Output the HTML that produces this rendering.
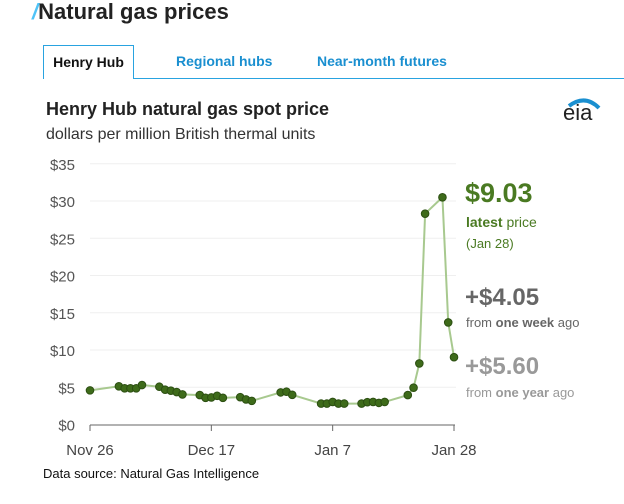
<!DOCTYPE html>
<html><head><meta charset="utf-8"><style>
body{margin:0;width:624px;height:504px;background:#fff;font-family:"Liberation Sans",sans-serif;overflow:hidden;position:relative}
.a{position:absolute;white-space:nowrap}
</style></head><body>
<div class="a" style="left:32px;top:-1px;font-size:22px;font-weight:bold;color:#222"><span style="color:#4fc3f7;font-style:italic">/</span>Natural gas prices</div>
<div class="a" style="left:43px;top:45px;width:89px;height:33px;border:1px solid #29a3e0;border-bottom:none;background:#fff;font-size:14px;font-weight:bold;color:#111;text-align:center;line-height:33px;z-index:2">Henry Hub</div>
<div class="a" style="left:176px;top:53px;font-size:14px;font-weight:bold;color:#1a8fd0">Regional hubs</div>
<div class="a" style="left:317px;top:53px;font-size:14px;font-weight:bold;color:#1a8fd0">Near-month futures</div>
<div class="a" style="left:133px;top:78px;width:491px;height:1px;background:#29a3e0"></div>
<div class="a" style="left:46px;top:99px;font-size:18px;font-weight:bold;color:#222">Henry Hub natural gas spot price</div>
<div class="a" style="left:46px;top:126px;font-size:16px;color:#333">dollars per million British thermal units</div>
<div class="a" style="left:563px;top:100px;font-size:22px;color:#222">eia<svg style="position:absolute;left:2px;top:-8px" width="40" height="22"><path d="M4 14 Q20 2 34 16" stroke="#1a8fd0" stroke-width="4" fill="none"/></svg></div>
<svg id="chart" class="a" style="left:0;top:0" width="624" height="504"></svg>
<div class="a" style="left:465px;top:178px;font-size:27px;font-weight:bold;color:#4a7a22">$9.03</div>
<div class="a" style="left:466px;top:214px;font-size:14px;color:#4a7a22"><b>latest</b> price</div>
<div class="a" style="left:466px;top:236px;font-size:13px;color:#4a7a22">(Jan 28)</div>
<div class="a" style="left:465px;top:284px;font-size:24px;font-weight:bold;color:#666">+$4.05</div>
<div class="a" style="left:466px;top:315px;font-size:13px;color:#666">from <b>one week</b> ago</div>
<div class="a" style="left:465px;top:353px;font-size:24px;font-weight:bold;color:#999">+$5.60</div>
<div class="a" style="left:466px;top:385px;font-size:13px;color:#999">from <b>one year</b> ago</div>
<div class="a" style="left:43px;top:466px;font-size:13px;color:#111">Data source: Natural Gas Intelligence</div>
<script>
const days=[0,5,6,7,8,9,12,13,14,15,16,19,20,21,22,23,26,27,28,33,34,35,40,41,42,43,44,47,48,49,50,51,55,56,57,58,61,62,63];
const prices=[4.58,5.13,4.86,4.86,4.86,5.3,5.07,4.67,4.54,4.35,4.04,3.95,3.58,3.63,3.85,3.58,3.67,3.36,3.17,4.31,4.4,3.99,2.81,2.81,3.03,2.81,2.81,2.81,3.0,3.03,2.9,3.03,3.95,4.94,8.2,28.3,30.5,13.7,9.03];
const yTicks=[0,5,10,15,20,25,30,35];
const xTickDays=[0,21,42,63];
const xTickLabels=["Nov 26","Dec 17","Jan 7","Jan 28"];
const NS="http://www.w3.org/2000/svg",svg=document.getElementById('chart');
const x=d=>90+d*(364/63), y=v=>424.5-v*7.45;
function mk(t,a){const e=document.createElementNS(NS,t);for(const k in a)e.setAttribute(k,a[k]);svg.appendChild(e);return e;}
yTicks.forEach(v=>{
 if(v>0){const g=mk('line',{x1:90,x2:456,y1:y(v),y2:y(v),stroke:'#efefef'});
 
 }
 const t=mk('text',{x:75,y:y(v)+6,'text-anchor':'end','font-size':15,fill:'#555','font-family':'Liberation Sans'});t.textContent='$'+v;
 
 
});
const ax=mk('line',{x1:90,x2:455,y1:425,y2:425,stroke:'#666'});


xTickDays.forEach((d,i)=>{
 const tk=mk('line',{x1:x(d),x2:x(d),y1:425,y2:431,stroke:'#666'});
 
 
 const t=mk('text',{x:x(d),y:455,'text-anchor':'middle','font-size':15,fill:'#444','font-family':'Liberation Sans'});t.textContent=xTickLabels[i];
 
 
});
const pl=mk('polyline',{points:days.map((d,i)=>x(d)+','+y(prices[i])).join(' '),fill:'none',stroke:'#a8c98f','stroke-width':2});


days.forEach((d,i)=>{
 const c=mk('circle',{cx:x(d),cy:y(prices[i]),r:3.8,fill:'#3e6b1a',stroke:'#2c4f12','stroke-width':1});
 
 
});
</script>
</body></html>
